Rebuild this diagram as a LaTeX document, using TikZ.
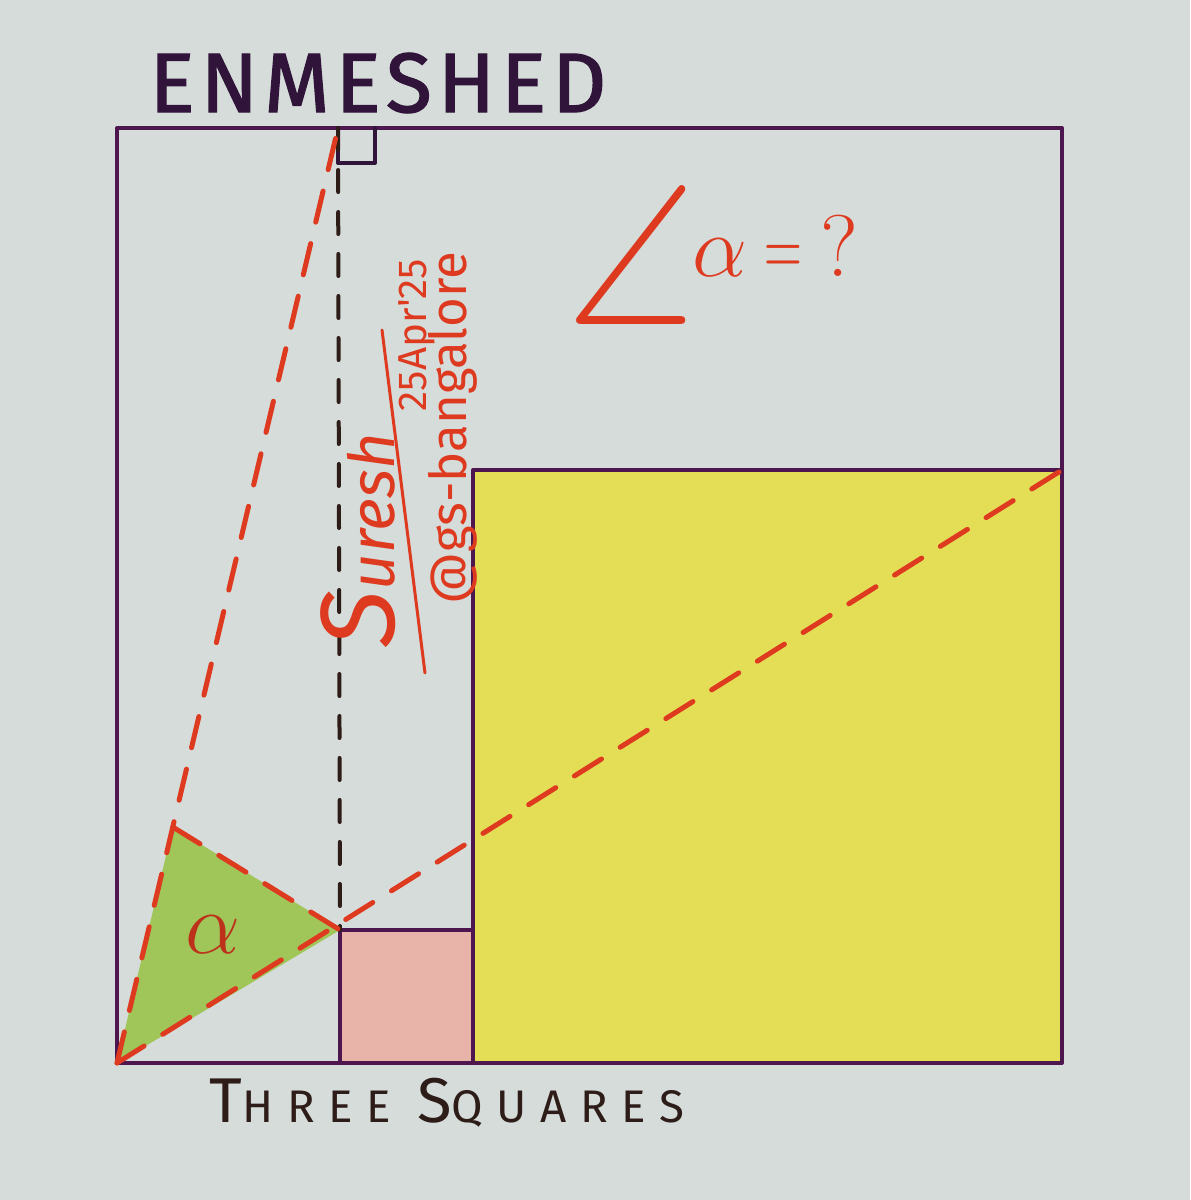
\documentclass[tikz,border=0pt]{standalone}
\usepackage{amsmath,amssymb}
\usepackage{fontspec}
\usepackage{graphicx}
\usetikzlibrary{calc}
\newfontfamily\handfont{Fira Sans}
\newfontfamily\titleface[LetterSpace=7,FakeBold=1.6]{Fira Sans}
\newfontfamily\wideface[LetterSpace=30]{Fira Sans}

\definecolor{paper}{RGB}{214,220,218}
\definecolor{ink}{RGB}{78,22,78}
\definecolor{deepink}{RGB}{48,20,58}
\definecolor{pen}{RGB}{222,58,32}
\definecolor{lemon}{RGB}{228,222,86}
\definecolor{blush}{RGB}{232,180,170}
\definecolor{leaf}{RGB}{160,198,90}
\definecolor{soot}{RGB}{45,28,24}

\tikzset{
	edge/.style={ink, line width=0.4mm, line join=round, line cap=round},
	reddash/.style={pen, line width=0.5mm, dash pattern=on 3.2mm off 2.2mm, line cap=round},
	inkdash/.style={soot, line width=0.4mm, dash pattern=on 2.2mm off 2mm, line cap=round},
}

\begin{document}
\begin{tikzpicture}[x=0.1mm,y=-0.1mm]
		\fill[paper] (0,0) rectangle (1190,1200);
		\useasboundingbox (0,0) rectangle (1190,1200);
		% big square and the two inner squares
		\coordinate (O) at (117,1063);
		\coordinate (BR) at (1062,1063);
		\coordinate (TR) at (1062,128);
		\coordinate (TL) at (117,128);
		\coordinate (T) at (338,128);
		\coordinate (P) at (340,930);
		\coordinate (Pb) at (340,1063);
		\coordinate (Y) at (473,470);
		\coordinate (Yr) at (1062,470);
		\coordinate (Yb) at (473,1063);
		\coordinate (G) at ($(O)!0.2524!(T)$);
		\fill[lemon] (Y) rectangle (BR);
		\fill[blush] (P) rectangle (Yb);
		\fill[leaf] (O) -- (G) -- (P) -- cycle;
		\draw[edge] (O) rectangle (TR);
		\draw[edge] (Yb) -- (Y) -- (Yr);
		\draw[edge] (Pb) -- (P) -- (P -| Yb);
		% right angle at the top
		\draw[edge, deepink] (T) |- ($(T) + (37,35)$) -- ($(T) + (37,0)$);
		\draw[inkdash] (T) -- (P);
		\draw[reddash] (O) -- (T);
		\draw[reddash] (O) -- (Yr);
		\draw[reddash] (G) -- (P);
		% labels
		\node[deepink, font=\titleface\fontsize{24}{24}\selectfont] (title) at (378,83) {ENMESHED};
		\node[soot, font=\wideface\fontsize{13}{13}\selectfont, anchor=base] (foot) at (447,1122)
			{{\fontsize{18}{18}\selectfont T}HREE {\fontsize{18}{18}\selectfont S}QUARES};
		\node[pen, font=\fontsize{30}{30}\selectfont] (ask) at (712,255)
			{$\vcenter{\hbox{\scalebox{1.7}[1.9]{$\angle$}}}\kern-1pt\alpha\kern5pt\scalebox{0.6}[1]{$=$}\kern5pt?$};
		\node[pen!85!black, font=\fontsize{30}{30}\selectfont] (alpha) at (213,935) {$\alpha$};
		% signature
		\node[pen, rotate=90, font=\handfont\itshape\fontsize{18}{18}\selectfont, anchor=base] (name) at (394,540)
			{{\fontsize{30}{30}\selectfont S}uresh};
		\node[pen, rotate=90, font=\handfont\fontsize{11.5}{11.5}\selectfont, anchor=base] (date) at (426,335) {25Apr'25};
		\node[pen, rotate=90, font=\handfont\fontsize{14.5}{14.5}\selectfont, anchor=base] (handle) at (466,428) {@gs-bangalore};
		\coordinate (sigA) at (425,673);
		\coordinate (sigB) at (382,330);
		\draw[pen, line width=0.3mm, line cap=round] (sigA) -- (sigB);
	\end{tikzpicture}
\end{document}
